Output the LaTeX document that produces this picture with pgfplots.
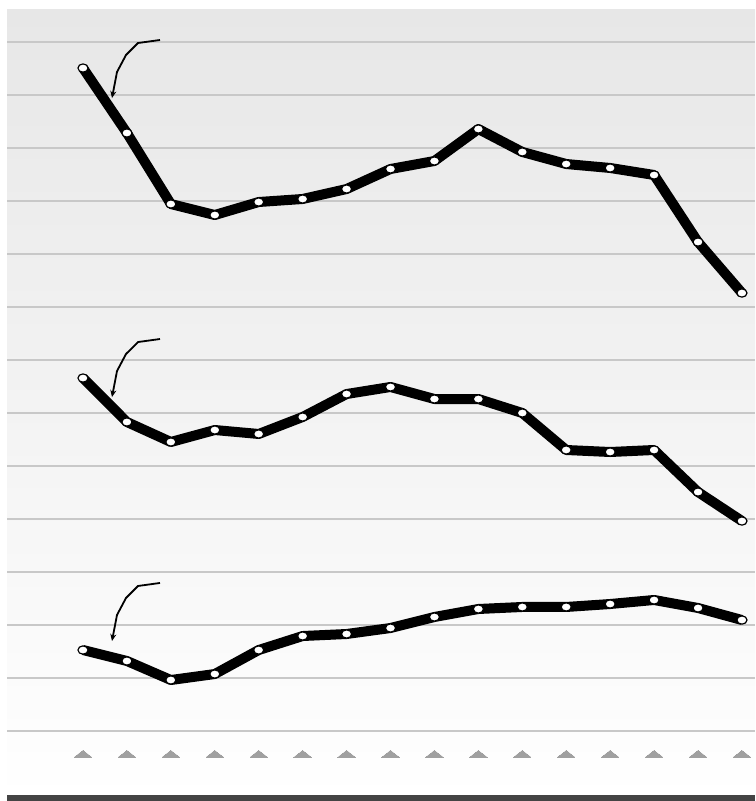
\documentclass[border=0pt]{standalone}
\usepackage{pgfplots}
\pgfplotsset{compat=1.18}
\usetikzlibrary{arrows.meta}
\definecolor{gridc}{RGB}{200,200,200}
\definecolor{bgtop}{RGB}{231,231,231}
\definecolor{barc}{RGB}{68,68,68}
\definecolor{trig}{RGB}{160,160,160}
\begin{document}
\begin{tikzpicture}
\path (0,0) rectangle (755bp,801bp);
\begin{axis}[
  at={(7bp,0bp)}, anchor=south west,
  scale only axis, width=748bp, height=791bp,
  xmin=-1.730, xmax=15.297,
  ymin=-1.3208, ymax=13.604,
  axis line style={draw=none},
  xtick=\empty, ytick={0,...,13}, yticklabels={},
  major tick length=0pt,
  ymajorgrids, major grid style={gridc, line width=2bp},
  axis background/.style={top color=bgtop, bottom color=white},
  clip=false,
]
\fill[barc] (axis cs:-1.730,-1.3208) rectangle (axis cs:15.297,-1.2075);
\addplot[draw=none, mark=triangle*, mark size=10bp, mark options={fill=trig, draw=trig, line width=0pt, yscale=0.45}]
  coordinates {(0,-0.45)(1,-0.45)(2,-0.45)(3,-0.45)(4,-0.45)(5,-0.45)(6,-0.45)(7,-0.45)(8,-0.45)(9,-0.45)(10,-0.45)(11,-0.45)(12,-0.45)(13,-0.45)(14,-0.45)(15,-0.45)};
\addplot[black, line width=10bp, line join=round, mark=*, mark size=4.6bp, mark options={fill=white, draw=black, line width=1.2bp, xscale=1.1, yscale=0.9}]
  coordinates {(0,12.509)(1,11.283)(2,9.943)(3,9.736)(4,9.981)(5,10.038)(6,10.226)(7,10.604)(8,10.755)(9,11.358)(10,10.925)(11,10.698)(12,10.623)(13,10.491)(14,9.226)(15,8.264)};
\addplot[black, line width=10bp, line join=round, mark=*, mark size=4.6bp, mark options={fill=white, draw=black, line width=1.2bp, xscale=1.1, yscale=0.9}]
  coordinates {(0,6.660)(1,5.830)(2,5.453)(3,5.679)(4,5.604)(5,5.925)(6,6.358)(7,6.491)(8,6.264)(9,6.264)(10,6.0)(11,5.302)(12,5.264)(13,5.302)(14,4.509)(15,3.962)};
\addplot[black, line width=10bp, line join=round, mark=*, mark size=4.6bp, mark options={fill=white, draw=black, line width=1.2bp, xscale=1.1, yscale=0.9}]
  coordinates {(0,1.528)(1,1.321)(2,0.962)(3,1.075)(4,1.528)(5,1.792)(6,1.830)(7,1.943)(8,2.151)(9,2.302)(10,2.340)(11,2.340)(12,2.396)(13,2.472)(14,2.321)(15,2.094)};
\draw[black, line width=1.8bp, -{Stealth[length=7bp,width=6bp]}] (axis cs:1.753,13.038) -- (axis cs:1.252,12.981) -- (axis cs:0.979,12.755) -- (axis cs:0.774,12.434) -- (axis cs:0.660,11.943);
\draw[black, line width=1.8bp, -{Stealth[length=7bp,width=6bp]}] (axis cs:1.753,7.396) -- (axis cs:1.252,7.339) -- (axis cs:0.979,7.113) -- (axis cs:0.774,6.792) -- (axis cs:0.660,6.301);
\draw[black, line width=1.8bp, -{Stealth[length=7bp,width=6bp]}] (axis cs:1.753,2.793) -- (axis cs:1.252,2.736) -- (axis cs:0.979,2.510) -- (axis cs:0.774,2.189) -- (axis cs:0.660,1.698);
\end{axis}
\end{tikzpicture}
\end{document}
